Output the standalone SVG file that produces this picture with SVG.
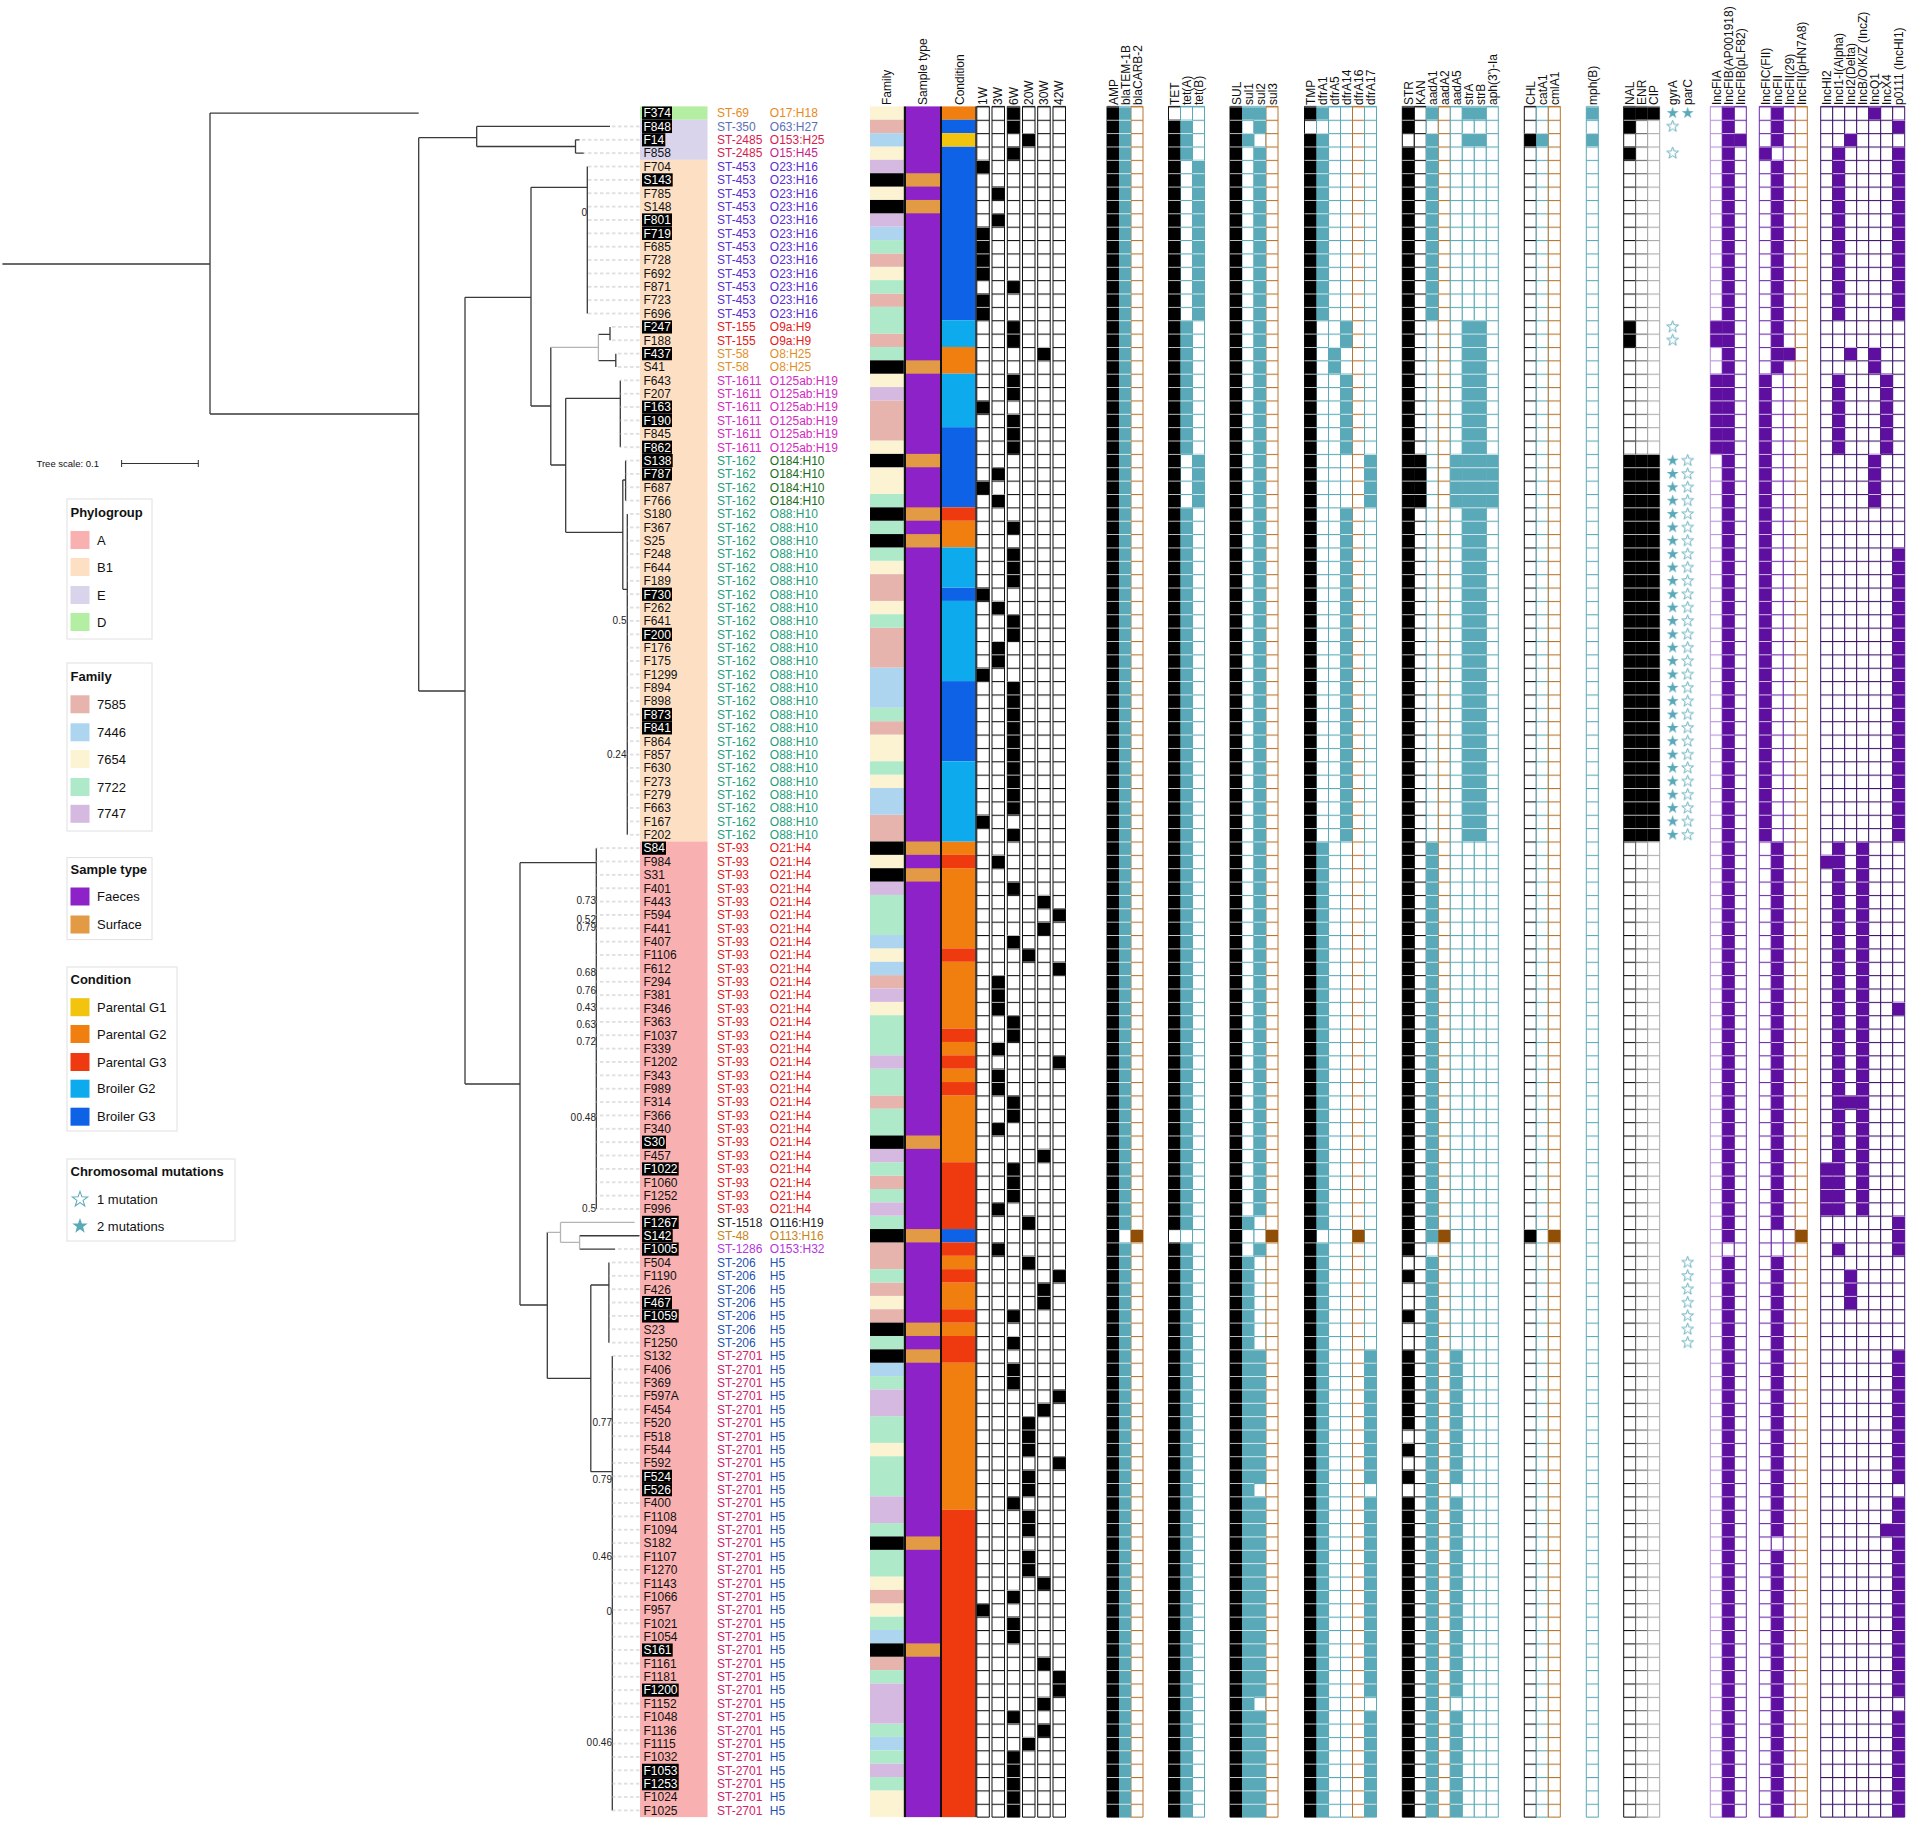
<svg xmlns="http://www.w3.org/2000/svg" xmlns:xlink="http://www.w3.org/1999/xlink" width="1908" height="1821" viewBox="0 0 1908 1821">
<style>
text{font-family:"Liberation Sans",Arial,Helvetica,sans-serif}
.lb{font-size:12px;fill:#111}
.hd{font-size:12px;fill:#111}
.bs{font-size:10px;fill:#222;text-anchor:end}
.lg{font-size:13px;fill:#111}
.lt{font-size:13px;font-weight:bold;fill:#111}
.lgb{fill:none;stroke:#e0e0e0;stroke-width:1}
.tr{fill:none;stroke:#3a3a3a;stroke-width:1.3}
.tl{fill:none;stroke:#b4b4b4;stroke-width:1.3}
.hb{fill:#000}
.w{fill:#fff}
.s69{fill:#e8891c}.s350{fill:#5b6fb5}.s2485{fill:#d81b50}.s15{fill:#c81f86}.s453{fill:#5a2ed0}.s155{fill:#e41a1c}.s58{fill:#e0902a}.s1611{fill:#d42ac0}.s162{fill:#1f9e7a}.s184{fill:#1a6e1a}.s93{fill:#e31a1c}.s1518{fill:#222}.s48{fill:#c8841a}.s1286{fill:#b336e0}.s206{fill:#2351b0}.s2701{fill:#d0216a}
#grid rect{vector-effect:non-scaling-stroke;stroke-width:1}
.cK{fill:url(#gK);stroke:#111}.cD{fill:url(#gD);stroke:#666}.cG{fill:url(#gG);stroke:#aaa}.cT{fill:url(#gT);stroke:#5aa9b8}.cB{fill:url(#gB);stroke:#b8742e}.cL{fill:url(#gL);stroke:#b890dc}.cP{fill:url(#gP);stroke:#6a2aa8}.cQ{fill:url(#gQ);stroke:#3d1466}
</style>
<defs>
<pattern id="gK" patternUnits="userSpaceOnUse" width="40" height="1"><rect width="40" height="1" fill="#fff"/><rect width="40" height="0.08" fill="#111"/></pattern>
<pattern id="gD" patternUnits="userSpaceOnUse" width="40" height="1"><rect width="40" height="1" fill="#fff"/><rect width="40" height="0.08" fill="#666"/></pattern>
<pattern id="gG" patternUnits="userSpaceOnUse" width="40" height="1"><rect width="40" height="1" fill="#fff"/><rect width="40" height="0.08" fill="#aaa"/></pattern>
<pattern id="gT" patternUnits="userSpaceOnUse" width="40" height="1"><rect width="40" height="1" fill="#fff"/><rect width="40" height="0.08" fill="#5aa9b8"/></pattern>
<pattern id="gB" patternUnits="userSpaceOnUse" width="40" height="1"><rect width="40" height="1" fill="#fff"/><rect width="40" height="0.08" fill="#b8742e"/></pattern>
<pattern id="gL" patternUnits="userSpaceOnUse" width="40" height="1"><rect width="40" height="1" fill="#fff"/><rect width="40" height="0.08" fill="#b890dc"/></pattern>
<pattern id="gP" patternUnits="userSpaceOnUse" width="40" height="1"><rect width="40" height="1" fill="#fff"/><rect width="40" height="0.08" fill="#6a2aa8"/></pattern>
<pattern id="gQ" patternUnits="userSpaceOnUse" width="40" height="1"><rect width="40" height="1" fill="#fff"/><rect width="40" height="0.08" fill="#3d1466"/></pattern>
<pattern id="fK" patternUnits="userSpaceOnUse" width="40" height="1"><rect width="40" height="1" fill="#000"/><rect width="40" height="0.055" fill="#fff"/></pattern>
<pattern id="fT" patternUnits="userSpaceOnUse" width="40" height="1"><rect width="40" height="1" fill="#5aa9b8"/><rect width="40" height="0.055" fill="#fff"/></pattern>
<pattern id="fB" patternUnits="userSpaceOnUse" width="40" height="1"><rect width="40" height="1" fill="#8f4f06"/><rect width="40" height="0.055" fill="#fff"/></pattern>
<pattern id="fP" patternUnits="userSpaceOnUse" width="40" height="1"><rect width="40" height="1" fill="#5f0f9f"/><rect width="40" height="0.055" fill="#fff"/></pattern>
<pattern id="ds" patternUnits="userSpaceOnUse" width="6" height="1"><rect x="0" y="0.46" width="3.5" height="0.075" fill="#c4c4c4"/></pattern>
<path id="star" d="M0,-6.2L1.46,-2L5.9,-1.92L2.36,0.77L3.64,5.02L0,2.48L-3.64,5.02L-2.36,0.77L-5.9,-1.92L-1.46,-2Z"/>
<pattern id="sF" patternUnits="userSpaceOnUse" x="1665.2" y="106.4" width="15" height="13.365"><use href="#star" x="7.5" y="6.68" fill="#5aa9b8"/></pattern>
<pattern id="sO" patternUnits="userSpaceOnUse" x="1665.2" y="106.4" width="15" height="13.365"><use href="#star" x="7.5" y="6.68" fill="#fff" stroke="#5aa9b8" stroke-width="0.9"/></pattern>
</defs>
<rect width="1908" height="1821" fill="#fff"/>

<g id="connectors">
<path class="tr" d="M2.4 264H210M210 113.08V414M210 113.08H418.7M210 414H418.7M418.7 137.7V691M418.7 137.7H476.7M476.7 126.45V146.5M476.7 126.45H610M476.7 146.5H575.5M575.5 139.81V153.18M575.5 139.81H579.6M575.5 153.18H583.8M418.7 691H465M465 297.3V1084M465 297.3H531M531 187.3V406M531 187.3H587.3M587.3 166.54V313.56M531 406H550.8M550.8 347.3V465M598.4 334.3H610M610 326.92V340.29M598.4 360.7H615.8M615.8 353.65V367.02M550.8 465H565.7M565.7 398.3V532.3M565.7 398.3H620.3M620.3 380.38V447.21M565.7 532.3H622.8M622.8 480V589.3M622.8 480H625.6M625.6 460.57V500.67M622.8 589.3H627.3M627.3 514.03V834.79M465 1084H520M520 862.7V1305M520 862.7H596.3M596.3 848.16V1209.01M520 1305H547.3M547.3 1232.3V1378.3M579.6 1235.74H639.5M579.6 1249.11H615M547.3 1378.3H590.8M590.8 1285V1471.7M590.8 1285H608.9M608.9 1262.47V1342.66M590.8 1471.7H612.3M612.3 1356.03V1810.44"/>
<path class="tl" d="M550.8 347.3H598.4M598.4 334.3V360.7M547.3 1232.3H560.5M560.5 1222.38V1242.3M560.5 1222.38H634.6M560.5 1242.3H579.6M579.6 1235.74V1249.11"/>
<g transform="translate(0,106.4) scale(1,13.365)" fill="url(#ds)">
<rect x="610" y="1" width="30" height="1"/><rect x="579.6" y="2" width="60.4" height="1"/><rect x="583.8" y="3" width="56.2" height="1"/><rect x="587.3" y="4" width="52.7" height="12"/><rect x="610" y="16" width="30" height="2"/><rect x="615.8" y="18" width="24.2" height="2"/><rect x="620.3" y="20" width="19.7" height="6"/><rect x="625.6" y="26" width="14.4" height="4"/><rect x="627.3" y="30" width="12.7" height="25"/><rect x="596.3" y="55" width="43.7" height="28"/><rect x="615" y="85" width="25" height="1"/><rect x="608.9" y="86" width="31.1" height="7"/><rect x="612.3" y="93" width="27.7" height="35"/>
</g>
</g>

<g id="bootstrap">
<text class="bs" x="587" y="216.2">0</text>
<text class="bs" x="626.5" y="623.5">0.5</text>
<text class="bs" x="626.5" y="757.5">0.24</text>
<text class="bs" x="596" y="903.5">0.73</text>
<text class="bs" x="596" y="922.5">0.52</text>
<text class="bs" x="596" y="930.8">0.79</text>
<text class="bs" x="596" y="975.8">0.68</text>
<text class="bs" x="596" y="993.5">0.76</text>
<text class="bs" x="596" y="1011.2">0.43</text>
<text class="bs" x="596" y="1027.5">0.63</text>
<text class="bs" x="596" y="1044.5">0.72</text>
<text class="bs" x="596" y="1121.2">0.48</text>
<text class="bs" x="576" y="1121.2">0</text>
<text class="bs" x="596" y="1211.8">0.5</text>
<text class="bs" x="612" y="1425.8">0.77</text>
<text class="bs" x="612" y="1482.5">0.79</text>
<text class="bs" x="612" y="1559.5">0.46</text>
<text class="bs" x="612" y="1615.2">0</text>
<text class="bs" x="612" y="1746.2">0.46</text>
<text class="bs" x="592" y="1746.2">0</text>
</g>

<g id="tree-scale">
<text x="36.5" y="466.5" style="font-size:9.5px;fill:#111">Tree scale: 0.1</text>
<path d="M121.6 463.5H198.3M121.6 460V467M198.3 460V467" fill="none" stroke="#333" stroke-width="1"/>
</g>

<g id="phylogroup-strip">
<rect x="640" y="106.4" width="67.5" height="13.37" fill="#b3eea2"/>
<rect x="640" y="119.77" width="67.5" height="40.1" fill="#d9d4ec"/>
<rect x="640" y="159.86" width="67.5" height="681.62" fill="#fde0c4"/>
<rect x="640" y="841.48" width="67.5" height="975.64" fill="#f8b0b0"/>
</g>

<g id="leaves">
<g id="leaf-F374" transform="translate(0 117.38)"><rect class="hb" x="642" y="-10.9" width="30" height="13.2"/><text class="lb w" x="643.5">F374</text><text class="lb s69" x="717">ST-69</text><text class="lb s69" x="769.8">O17:H18</text></g>
<g id="leaf-F848" transform="translate(0 130.75)"><rect class="hb" x="642" y="-10.9" width="30" height="13.2"/><text class="lb w" x="643.5">F848</text><text class="lb s350" x="717">ST-350</text><text class="lb s350" x="769.8">O63:H27</text></g>
<g id="leaf-F14" transform="translate(0 144.11)"><rect class="hb" x="642" y="-10.9" width="23.3" height="13.2"/><text class="lb w" x="643.5">F14</text><text class="lb s2485" x="717">ST-2485</text><text class="lb s2485" x="769.8">O153:H25</text></g>
<g id="leaf-F858" transform="translate(0 157.48)"><text class="lb" x="643.5">F858</text><text class="lb s2485" x="717">ST-2485</text><text class="lb s15" x="769.8">O15:H45</text></g>
<g id="leaf-F704" transform="translate(0 170.84)"><text class="lb" x="643.5">F704</text><text class="lb s453" x="717">ST-453</text><text class="lb s453" x="769.8">O23:H16</text></g>
<g id="leaf-S143" transform="translate(0 184.21)"><rect class="hb" x="642" y="-10.9" width="30.7" height="13.2"/><text class="lb w" x="643.5">S143</text><text class="lb s453" x="717">ST-453</text><text class="lb s453" x="769.8">O23:H16</text></g>
<g id="leaf-F785" transform="translate(0 197.57)"><text class="lb" x="643.5">F785</text><text class="lb s453" x="717">ST-453</text><text class="lb s453" x="769.8">O23:H16</text></g>
<g id="leaf-S148" transform="translate(0 210.94)"><text class="lb" x="643.5">S148</text><text class="lb s453" x="717">ST-453</text><text class="lb s453" x="769.8">O23:H16</text></g>
<g id="leaf-F801" transform="translate(0 224.30)"><rect class="hb" x="642" y="-10.9" width="30" height="13.2"/><text class="lb w" x="643.5">F801</text><text class="lb s453" x="717">ST-453</text><text class="lb s453" x="769.8">O23:H16</text></g>
<g id="leaf-F719" transform="translate(0 237.67)"><rect class="hb" x="642" y="-10.9" width="30" height="13.2"/><text class="lb w" x="643.5">F719</text><text class="lb s453" x="717">ST-453</text><text class="lb s453" x="769.8">O23:H16</text></g>
<g id="leaf-F685" transform="translate(0 251.03)"><text class="lb" x="643.5">F685</text><text class="lb s453" x="717">ST-453</text><text class="lb s453" x="769.8">O23:H16</text></g>
<g id="leaf-F728" transform="translate(0 264.40)"><text class="lb" x="643.5">F728</text><text class="lb s453" x="717">ST-453</text><text class="lb s453" x="769.8">O23:H16</text></g>
<g id="leaf-F692" transform="translate(0 277.76)"><text class="lb" x="643.5">F692</text><text class="lb s453" x="717">ST-453</text><text class="lb s453" x="769.8">O23:H16</text></g>
<g id="leaf-F871" transform="translate(0 291.13)"><text class="lb" x="643.5">F871</text><text class="lb s453" x="717">ST-453</text><text class="lb s453" x="769.8">O23:H16</text></g>
<g id="leaf-F723" transform="translate(0 304.49)"><text class="lb" x="643.5">F723</text><text class="lb s453" x="717">ST-453</text><text class="lb s453" x="769.8">O23:H16</text></g>
<g id="leaf-F696" transform="translate(0 317.86)"><text class="lb" x="643.5">F696</text><text class="lb s453" x="717">ST-453</text><text class="lb s453" x="769.8">O23:H16</text></g>
<g id="leaf-F247" transform="translate(0 331.22)"><rect class="hb" x="642" y="-10.9" width="30" height="13.2"/><text class="lb w" x="643.5">F247</text><text class="lb s155" x="717">ST-155</text><text class="lb s155" x="769.8">O9a:H9</text></g>
<g id="leaf-F188" transform="translate(0 344.59)"><text class="lb" x="643.5">F188</text><text class="lb s155" x="717">ST-155</text><text class="lb s155" x="769.8">O9a:H9</text></g>
<g id="leaf-F437" transform="translate(0 357.95)"><rect class="hb" x="642" y="-10.9" width="30" height="13.2"/><text class="lb w" x="643.5">F437</text><text class="lb s58" x="717">ST-58</text><text class="lb s58" x="769.8">O8:H25</text></g>
<g id="leaf-S41" transform="translate(0 371.32)"><text class="lb" x="643.5">S41</text><text class="lb s58" x="717">ST-58</text><text class="lb s58" x="769.8">O8:H25</text></g>
<g id="leaf-F643" transform="translate(0 384.68)"><text class="lb" x="643.5">F643</text><text class="lb s1611" x="717">ST-1611</text><text class="lb s1611" x="769.8">O125ab:H19</text></g>
<g id="leaf-F207" transform="translate(0 398.05)"><text class="lb" x="643.5">F207</text><text class="lb s1611" x="717">ST-1611</text><text class="lb s1611" x="769.8">O125ab:H19</text></g>
<g id="leaf-F163" transform="translate(0 411.41)"><rect class="hb" x="642" y="-10.9" width="30" height="13.2"/><text class="lb w" x="643.5">F163</text><text class="lb s1611" x="717">ST-1611</text><text class="lb s1611" x="769.8">O125ab:H19</text></g>
<g id="leaf-F190" transform="translate(0 424.78)"><rect class="hb" x="642" y="-10.9" width="30" height="13.2"/><text class="lb w" x="643.5">F190</text><text class="lb s1611" x="717">ST-1611</text><text class="lb s1611" x="769.8">O125ab:H19</text></g>
<g id="leaf-F845" transform="translate(0 438.14)"><text class="lb" x="643.5">F845</text><text class="lb s1611" x="717">ST-1611</text><text class="lb s1611" x="769.8">O125ab:H19</text></g>
<g id="leaf-F862" transform="translate(0 451.51)"><rect class="hb" x="642" y="-10.9" width="30" height="13.2"/><text class="lb w" x="643.5">F862</text><text class="lb s1611" x="717">ST-1611</text><text class="lb s1611" x="769.8">O125ab:H19</text></g>
<g id="leaf-S138" transform="translate(0 464.87)"><rect class="hb" x="642" y="-10.9" width="30.7" height="13.2"/><text class="lb w" x="643.5">S138</text><text class="lb s162" x="717">ST-162</text><text class="lb s184" x="769.8">O184:H10</text></g>
<g id="leaf-F787" transform="translate(0 478.24)"><rect class="hb" x="642" y="-10.9" width="30" height="13.2"/><text class="lb w" x="643.5">F787</text><text class="lb s162" x="717">ST-162</text><text class="lb s184" x="769.8">O184:H10</text></g>
<g id="leaf-F687" transform="translate(0 491.60)"><text class="lb" x="643.5">F687</text><text class="lb s162" x="717">ST-162</text><text class="lb s184" x="769.8">O184:H10</text></g>
<g id="leaf-F766" transform="translate(0 504.97)"><text class="lb" x="643.5">F766</text><text class="lb s162" x="717">ST-162</text><text class="lb s184" x="769.8">O184:H10</text></g>
<g id="leaf-S180" transform="translate(0 518.33)"><text class="lb" x="643.5">S180</text><text class="lb s162" x="717">ST-162</text><text class="lb s162" x="769.8">O88:H10</text></g>
<g id="leaf-F367" transform="translate(0 531.70)"><text class="lb" x="643.5">F367</text><text class="lb s162" x="717">ST-162</text><text class="lb s162" x="769.8">O88:H10</text></g>
<g id="leaf-S25" transform="translate(0 545.06)"><text class="lb" x="643.5">S25</text><text class="lb s162" x="717">ST-162</text><text class="lb s162" x="769.8">O88:H10</text></g>
<g id="leaf-F248" transform="translate(0 558.43)"><text class="lb" x="643.5">F248</text><text class="lb s162" x="717">ST-162</text><text class="lb s162" x="769.8">O88:H10</text></g>
<g id="leaf-F644" transform="translate(0 571.79)"><text class="lb" x="643.5">F644</text><text class="lb s162" x="717">ST-162</text><text class="lb s162" x="769.8">O88:H10</text></g>
<g id="leaf-F189" transform="translate(0 585.16)"><text class="lb" x="643.5">F189</text><text class="lb s162" x="717">ST-162</text><text class="lb s162" x="769.8">O88:H10</text></g>
<g id="leaf-F730" transform="translate(0 598.52)"><rect class="hb" x="642" y="-10.9" width="30" height="13.2"/><text class="lb w" x="643.5">F730</text><text class="lb s162" x="717">ST-162</text><text class="lb s162" x="769.8">O88:H10</text></g>
<g id="leaf-F262" transform="translate(0 611.89)"><text class="lb" x="643.5">F262</text><text class="lb s162" x="717">ST-162</text><text class="lb s162" x="769.8">O88:H10</text></g>
<g id="leaf-F641" transform="translate(0 625.25)"><text class="lb" x="643.5">F641</text><text class="lb s162" x="717">ST-162</text><text class="lb s162" x="769.8">O88:H10</text></g>
<g id="leaf-F200" transform="translate(0 638.62)"><rect class="hb" x="642" y="-10.9" width="30" height="13.2"/><text class="lb w" x="643.5">F200</text><text class="lb s162" x="717">ST-162</text><text class="lb s162" x="769.8">O88:H10</text></g>
<g id="leaf-F176" transform="translate(0 651.98)"><text class="lb" x="643.5">F176</text><text class="lb s162" x="717">ST-162</text><text class="lb s162" x="769.8">O88:H10</text></g>
<g id="leaf-F175" transform="translate(0 665.35)"><text class="lb" x="643.5">F175</text><text class="lb s162" x="717">ST-162</text><text class="lb s162" x="769.8">O88:H10</text></g>
<g id="leaf-F1299" transform="translate(0 678.71)"><text class="lb" x="643.5">F1299</text><text class="lb s162" x="717">ST-162</text><text class="lb s162" x="769.8">O88:H10</text></g>
<g id="leaf-F894" transform="translate(0 692.08)"><text class="lb" x="643.5">F894</text><text class="lb s162" x="717">ST-162</text><text class="lb s162" x="769.8">O88:H10</text></g>
<g id="leaf-F898" transform="translate(0 705.44)"><text class="lb" x="643.5">F898</text><text class="lb s162" x="717">ST-162</text><text class="lb s162" x="769.8">O88:H10</text></g>
<g id="leaf-F873" transform="translate(0 718.81)"><rect class="hb" x="642" y="-10.9" width="30" height="13.2"/><text class="lb w" x="643.5">F873</text><text class="lb s162" x="717">ST-162</text><text class="lb s162" x="769.8">O88:H10</text></g>
<g id="leaf-F841" transform="translate(0 732.17)"><rect class="hb" x="642" y="-10.9" width="30" height="13.2"/><text class="lb w" x="643.5">F841</text><text class="lb s162" x="717">ST-162</text><text class="lb s162" x="769.8">O88:H10</text></g>
<g id="leaf-F864" transform="translate(0 745.54)"><text class="lb" x="643.5">F864</text><text class="lb s162" x="717">ST-162</text><text class="lb s162" x="769.8">O88:H10</text></g>
<g id="leaf-F857" transform="translate(0 758.90)"><text class="lb" x="643.5">F857</text><text class="lb s162" x="717">ST-162</text><text class="lb s162" x="769.8">O88:H10</text></g>
<g id="leaf-F630" transform="translate(0 772.27)"><text class="lb" x="643.5">F630</text><text class="lb s162" x="717">ST-162</text><text class="lb s162" x="769.8">O88:H10</text></g>
<g id="leaf-F273" transform="translate(0 785.63)"><text class="lb" x="643.5">F273</text><text class="lb s162" x="717">ST-162</text><text class="lb s162" x="769.8">O88:H10</text></g>
<g id="leaf-F279" transform="translate(0 799.00)"><text class="lb" x="643.5">F279</text><text class="lb s162" x="717">ST-162</text><text class="lb s162" x="769.8">O88:H10</text></g>
<g id="leaf-F663" transform="translate(0 812.36)"><text class="lb" x="643.5">F663</text><text class="lb s162" x="717">ST-162</text><text class="lb s162" x="769.8">O88:H10</text></g>
<g id="leaf-F167" transform="translate(0 825.73)"><text class="lb" x="643.5">F167</text><text class="lb s162" x="717">ST-162</text><text class="lb s162" x="769.8">O88:H10</text></g>
<g id="leaf-F202" transform="translate(0 839.09)"><text class="lb" x="643.5">F202</text><text class="lb s162" x="717">ST-162</text><text class="lb s162" x="769.8">O88:H10</text></g>
<g id="leaf-S84" transform="translate(0 852.46)"><rect class="hb" x="642" y="-10.9" width="24" height="13.2"/><text class="lb w" x="643.5">S84</text><text class="lb s93" x="717">ST-93</text><text class="lb s93" x="769.8">O21:H4</text></g>
<g id="leaf-F984" transform="translate(0 865.82)"><text class="lb" x="643.5">F984</text><text class="lb s93" x="717">ST-93</text><text class="lb s93" x="769.8">O21:H4</text></g>
<g id="leaf-S31" transform="translate(0 879.19)"><text class="lb" x="643.5">S31</text><text class="lb s93" x="717">ST-93</text><text class="lb s93" x="769.8">O21:H4</text></g>
<g id="leaf-F401" transform="translate(0 892.55)"><text class="lb" x="643.5">F401</text><text class="lb s93" x="717">ST-93</text><text class="lb s93" x="769.8">O21:H4</text></g>
<g id="leaf-F443" transform="translate(0 905.92)"><text class="lb" x="643.5">F443</text><text class="lb s93" x="717">ST-93</text><text class="lb s93" x="769.8">O21:H4</text></g>
<g id="leaf-F594" transform="translate(0 919.28)"><text class="lb" x="643.5">F594</text><text class="lb s93" x="717">ST-93</text><text class="lb s93" x="769.8">O21:H4</text></g>
<g id="leaf-F441" transform="translate(0 932.65)"><text class="lb" x="643.5">F441</text><text class="lb s93" x="717">ST-93</text><text class="lb s93" x="769.8">O21:H4</text></g>
<g id="leaf-F407" transform="translate(0 946.01)"><text class="lb" x="643.5">F407</text><text class="lb s93" x="717">ST-93</text><text class="lb s93" x="769.8">O21:H4</text></g>
<g id="leaf-F1106" transform="translate(0 959.38)"><text class="lb" x="643.5">F1106</text><text class="lb s93" x="717">ST-93</text><text class="lb s93" x="769.8">O21:H4</text></g>
<g id="leaf-F612" transform="translate(0 972.74)"><text class="lb" x="643.5">F612</text><text class="lb s93" x="717">ST-93</text><text class="lb s93" x="769.8">O21:H4</text></g>
<g id="leaf-F294" transform="translate(0 986.11)"><text class="lb" x="643.5">F294</text><text class="lb s93" x="717">ST-93</text><text class="lb s93" x="769.8">O21:H4</text></g>
<g id="leaf-F381" transform="translate(0 999.47)"><text class="lb" x="643.5">F381</text><text class="lb s93" x="717">ST-93</text><text class="lb s93" x="769.8">O21:H4</text></g>
<g id="leaf-F346" transform="translate(0 1012.84)"><text class="lb" x="643.5">F346</text><text class="lb s93" x="717">ST-93</text><text class="lb s93" x="769.8">O21:H4</text></g>
<g id="leaf-F363" transform="translate(0 1026.20)"><text class="lb" x="643.5">F363</text><text class="lb s93" x="717">ST-93</text><text class="lb s93" x="769.8">O21:H4</text></g>
<g id="leaf-F1037" transform="translate(0 1039.57)"><text class="lb" x="643.5">F1037</text><text class="lb s93" x="717">ST-93</text><text class="lb s93" x="769.8">O21:H4</text></g>
<g id="leaf-F339" transform="translate(0 1052.93)"><text class="lb" x="643.5">F339</text><text class="lb s93" x="717">ST-93</text><text class="lb s93" x="769.8">O21:H4</text></g>
<g id="leaf-F1202" transform="translate(0 1066.30)"><text class="lb" x="643.5">F1202</text><text class="lb s93" x="717">ST-93</text><text class="lb s93" x="769.8">O21:H4</text></g>
<g id="leaf-F343" transform="translate(0 1079.66)"><text class="lb" x="643.5">F343</text><text class="lb s93" x="717">ST-93</text><text class="lb s93" x="769.8">O21:H4</text></g>
<g id="leaf-F989" transform="translate(0 1093.03)"><text class="lb" x="643.5">F989</text><text class="lb s93" x="717">ST-93</text><text class="lb s93" x="769.8">O21:H4</text></g>
<g id="leaf-F314" transform="translate(0 1106.39)"><text class="lb" x="643.5">F314</text><text class="lb s93" x="717">ST-93</text><text class="lb s93" x="769.8">O21:H4</text></g>
<g id="leaf-F366" transform="translate(0 1119.76)"><text class="lb" x="643.5">F366</text><text class="lb s93" x="717">ST-93</text><text class="lb s93" x="769.8">O21:H4</text></g>
<g id="leaf-F340" transform="translate(0 1133.12)"><text class="lb" x="643.5">F340</text><text class="lb s93" x="717">ST-93</text><text class="lb s93" x="769.8">O21:H4</text></g>
<g id="leaf-S30" transform="translate(0 1146.49)"><rect class="hb" x="642" y="-10.9" width="24" height="13.2"/><text class="lb w" x="643.5">S30</text><text class="lb s93" x="717">ST-93</text><text class="lb s93" x="769.8">O21:H4</text></g>
<g id="leaf-F457" transform="translate(0 1159.85)"><text class="lb" x="643.5">F457</text><text class="lb s93" x="717">ST-93</text><text class="lb s93" x="769.8">O21:H4</text></g>
<g id="leaf-F1022" transform="translate(0 1173.22)"><rect class="hb" x="642" y="-10.9" width="36.7" height="13.2"/><text class="lb w" x="643.5">F1022</text><text class="lb s93" x="717">ST-93</text><text class="lb s93" x="769.8">O21:H4</text></g>
<g id="leaf-F1060" transform="translate(0 1186.58)"><text class="lb" x="643.5">F1060</text><text class="lb s93" x="717">ST-93</text><text class="lb s93" x="769.8">O21:H4</text></g>
<g id="leaf-F1252" transform="translate(0 1199.95)"><text class="lb" x="643.5">F1252</text><text class="lb s93" x="717">ST-93</text><text class="lb s93" x="769.8">O21:H4</text></g>
<g id="leaf-F996" transform="translate(0 1213.31)"><text class="lb" x="643.5">F996</text><text class="lb s93" x="717">ST-93</text><text class="lb s93" x="769.8">O21:H4</text></g>
<g id="leaf-F1267" transform="translate(0 1226.68)"><rect class="hb" x="642" y="-10.9" width="36.7" height="13.2"/><text class="lb w" x="643.5">F1267</text><text class="lb s1518" x="717">ST-1518</text><text class="lb s1518" x="769.8">O116:H19</text></g>
<g id="leaf-S142" transform="translate(0 1240.04)"><rect class="hb" x="642" y="-10.9" width="30.7" height="13.2"/><text class="lb w" x="643.5">S142</text><text class="lb s48" x="717">ST-48</text><text class="lb s48" x="769.8">O113:H16</text></g>
<g id="leaf-F1005" transform="translate(0 1253.41)"><rect class="hb" x="642" y="-10.9" width="36.7" height="13.2"/><text class="lb w" x="643.5">F1005</text><text class="lb s1286" x="717">ST-1286</text><text class="lb s1286" x="769.8">O153:H32</text></g>
<g id="leaf-F504" transform="translate(0 1266.77)"><text class="lb" x="643.5">F504</text><text class="lb s206" x="717">ST-206</text><text class="lb s206" x="769.8">H5</text></g>
<g id="leaf-F1190" transform="translate(0 1280.14)"><text class="lb" x="643.5">F1190</text><text class="lb s206" x="717">ST-206</text><text class="lb s206" x="769.8">H5</text></g>
<g id="leaf-F426" transform="translate(0 1293.50)"><text class="lb" x="643.5">F426</text><text class="lb s206" x="717">ST-206</text><text class="lb s206" x="769.8">H5</text></g>
<g id="leaf-F467" transform="translate(0 1306.87)"><rect class="hb" x="642" y="-10.9" width="30" height="13.2"/><text class="lb w" x="643.5">F467</text><text class="lb s206" x="717">ST-206</text><text class="lb s206" x="769.8">H5</text></g>
<g id="leaf-F1059" transform="translate(0 1320.23)"><rect class="hb" x="642" y="-10.9" width="36.7" height="13.2"/><text class="lb w" x="643.5">F1059</text><text class="lb s206" x="717">ST-206</text><text class="lb s206" x="769.8">H5</text></g>
<g id="leaf-S23" transform="translate(0 1333.60)"><text class="lb" x="643.5">S23</text><text class="lb s206" x="717">ST-206</text><text class="lb s206" x="769.8">H5</text></g>
<g id="leaf-F1250" transform="translate(0 1346.96)"><text class="lb" x="643.5">F1250</text><text class="lb s206" x="717">ST-206</text><text class="lb s206" x="769.8">H5</text></g>
<g id="leaf-S132" transform="translate(0 1360.33)"><text class="lb" x="643.5">S132</text><text class="lb s2701" x="717">ST-2701</text><text class="lb s206" x="769.8">H5</text></g>
<g id="leaf-F406" transform="translate(0 1373.69)"><text class="lb" x="643.5">F406</text><text class="lb s2701" x="717">ST-2701</text><text class="lb s206" x="769.8">H5</text></g>
<g id="leaf-F369" transform="translate(0 1387.06)"><text class="lb" x="643.5">F369</text><text class="lb s2701" x="717">ST-2701</text><text class="lb s206" x="769.8">H5</text></g>
<g id="leaf-F597A" transform="translate(0 1400.42)"><text class="lb" x="643.5">F597A</text><text class="lb s2701" x="717">ST-2701</text><text class="lb s206" x="769.8">H5</text></g>
<g id="leaf-F454" transform="translate(0 1413.79)"><text class="lb" x="643.5">F454</text><text class="lb s2701" x="717">ST-2701</text><text class="lb s206" x="769.8">H5</text></g>
<g id="leaf-F520" transform="translate(0 1427.15)"><text class="lb" x="643.5">F520</text><text class="lb s2701" x="717">ST-2701</text><text class="lb s206" x="769.8">H5</text></g>
<g id="leaf-F518" transform="translate(0 1440.52)"><text class="lb" x="643.5">F518</text><text class="lb s2701" x="717">ST-2701</text><text class="lb s206" x="769.8">H5</text></g>
<g id="leaf-F544" transform="translate(0 1453.88)"><text class="lb" x="643.5">F544</text><text class="lb s2701" x="717">ST-2701</text><text class="lb s206" x="769.8">H5</text></g>
<g id="leaf-F592" transform="translate(0 1467.25)"><text class="lb" x="643.5">F592</text><text class="lb s2701" x="717">ST-2701</text><text class="lb s206" x="769.8">H5</text></g>
<g id="leaf-F524" transform="translate(0 1480.61)"><rect class="hb" x="642" y="-10.9" width="30" height="13.2"/><text class="lb w" x="643.5">F524</text><text class="lb s2701" x="717">ST-2701</text><text class="lb s206" x="769.8">H5</text></g>
<g id="leaf-F526" transform="translate(0 1493.98)"><rect class="hb" x="642" y="-10.9" width="30" height="13.2"/><text class="lb w" x="643.5">F526</text><text class="lb s2701" x="717">ST-2701</text><text class="lb s206" x="769.8">H5</text></g>
<g id="leaf-F400" transform="translate(0 1507.34)"><text class="lb" x="643.5">F400</text><text class="lb s2701" x="717">ST-2701</text><text class="lb s206" x="769.8">H5</text></g>
<g id="leaf-F1108" transform="translate(0 1520.71)"><text class="lb" x="643.5">F1108</text><text class="lb s2701" x="717">ST-2701</text><text class="lb s206" x="769.8">H5</text></g>
<g id="leaf-F1094" transform="translate(0 1534.07)"><text class="lb" x="643.5">F1094</text><text class="lb s2701" x="717">ST-2701</text><text class="lb s206" x="769.8">H5</text></g>
<g id="leaf-S182" transform="translate(0 1547.44)"><text class="lb" x="643.5">S182</text><text class="lb s2701" x="717">ST-2701</text><text class="lb s206" x="769.8">H5</text></g>
<g id="leaf-F1107" transform="translate(0 1560.80)"><text class="lb" x="643.5">F1107</text><text class="lb s2701" x="717">ST-2701</text><text class="lb s206" x="769.8">H5</text></g>
<g id="leaf-F1270" transform="translate(0 1574.17)"><text class="lb" x="643.5">F1270</text><text class="lb s2701" x="717">ST-2701</text><text class="lb s206" x="769.8">H5</text></g>
<g id="leaf-F1143" transform="translate(0 1587.53)"><text class="lb" x="643.5">F1143</text><text class="lb s2701" x="717">ST-2701</text><text class="lb s206" x="769.8">H5</text></g>
<g id="leaf-F1066" transform="translate(0 1600.90)"><text class="lb" x="643.5">F1066</text><text class="lb s2701" x="717">ST-2701</text><text class="lb s206" x="769.8">H5</text></g>
<g id="leaf-F957" transform="translate(0 1614.26)"><text class="lb" x="643.5">F957</text><text class="lb s2701" x="717">ST-2701</text><text class="lb s206" x="769.8">H5</text></g>
<g id="leaf-F1021" transform="translate(0 1627.63)"><text class="lb" x="643.5">F1021</text><text class="lb s2701" x="717">ST-2701</text><text class="lb s206" x="769.8">H5</text></g>
<g id="leaf-F1054" transform="translate(0 1640.99)"><text class="lb" x="643.5">F1054</text><text class="lb s2701" x="717">ST-2701</text><text class="lb s206" x="769.8">H5</text></g>
<g id="leaf-S161" transform="translate(0 1654.36)"><rect class="hb" x="642" y="-10.9" width="30.7" height="13.2"/><text class="lb w" x="643.5">S161</text><text class="lb s2701" x="717">ST-2701</text><text class="lb s206" x="769.8">H5</text></g>
<g id="leaf-F1161" transform="translate(0 1667.72)"><text class="lb" x="643.5">F1161</text><text class="lb s2701" x="717">ST-2701</text><text class="lb s206" x="769.8">H5</text></g>
<g id="leaf-F1181" transform="translate(0 1681.09)"><text class="lb" x="643.5">F1181</text><text class="lb s2701" x="717">ST-2701</text><text class="lb s206" x="769.8">H5</text></g>
<g id="leaf-F1200" transform="translate(0 1694.45)"><rect class="hb" x="642" y="-10.9" width="36.7" height="13.2"/><text class="lb w" x="643.5">F1200</text><text class="lb s2701" x="717">ST-2701</text><text class="lb s206" x="769.8">H5</text></g>
<g id="leaf-F1152" transform="translate(0 1707.82)"><text class="lb" x="643.5">F1152</text><text class="lb s2701" x="717">ST-2701</text><text class="lb s206" x="769.8">H5</text></g>
<g id="leaf-F1048" transform="translate(0 1721.18)"><text class="lb" x="643.5">F1048</text><text class="lb s2701" x="717">ST-2701</text><text class="lb s206" x="769.8">H5</text></g>
<g id="leaf-F1136" transform="translate(0 1734.55)"><text class="lb" x="643.5">F1136</text><text class="lb s2701" x="717">ST-2701</text><text class="lb s206" x="769.8">H5</text></g>
<g id="leaf-F1115" transform="translate(0 1747.91)"><text class="lb" x="643.5">F1115</text><text class="lb s2701" x="717">ST-2701</text><text class="lb s206" x="769.8">H5</text></g>
<g id="leaf-F1032" transform="translate(0 1761.28)"><text class="lb" x="643.5">F1032</text><text class="lb s2701" x="717">ST-2701</text><text class="lb s206" x="769.8">H5</text></g>
<g id="leaf-F1053" transform="translate(0 1774.64)"><rect class="hb" x="642" y="-10.9" width="36.7" height="13.2"/><text class="lb w" x="643.5">F1053</text><text class="lb s2701" x="717">ST-2701</text><text class="lb s206" x="769.8">H5</text></g>
<g id="leaf-F1253" transform="translate(0 1788.01)"><rect class="hb" x="642" y="-10.9" width="36.7" height="13.2"/><text class="lb w" x="643.5">F1253</text><text class="lb s2701" x="717">ST-2701</text><text class="lb s206" x="769.8">H5</text></g>
<g id="leaf-F1024" transform="translate(0 1801.37)"><text class="lb" x="643.5">F1024</text><text class="lb s2701" x="717">ST-2701</text><text class="lb s206" x="769.8">H5</text></g>
<g id="leaf-F1025" transform="translate(0 1814.74)"><text class="lb" x="643.5">F1025</text><text class="lb s2701" x="717">ST-2701</text><text class="lb s206" x="769.8">H5</text></g>
</g>

<g id="heatmap" transform="translate(0,106.4) scale(1,13.365)">
<g id="strips">
<g fill="#fcf3d2"><rect x="870" y="0" width="33.8" height="1"/><rect x="870" y="3" width="33.8" height="1"/><rect x="870" y="6" width="33.8" height="1"/><rect x="870" y="12" width="33.8" height="1"/><rect x="870" y="20" width="33.8" height="1"/><rect x="870" y="25" width="33.8" height="1"/><rect x="870" y="27" width="33.8" height="2"/><rect x="870" y="34" width="33.8" height="1"/><rect x="870" y="37" width="33.8" height="1"/><rect x="870" y="47" width="33.8" height="2"/><rect x="870" y="50" width="33.8" height="1"/><rect x="870" y="56" width="33.8" height="1"/><rect x="870" y="63" width="33.8" height="1"/><rect x="870" y="67" width="33.8" height="1"/><rect x="870" y="89" width="33.8" height="1"/><rect x="870" y="100" width="33.8" height="1"/><rect x="870" y="110" width="33.8" height="1"/><rect x="870" y="112" width="33.8" height="1"/><rect x="870" y="126" width="33.8" height="2"/></g>
<g fill="#e6b3ad"><rect x="870" y="1" width="33.8" height="1"/><rect x="870" y="11" width="33.8" height="1"/><rect x="870" y="14" width="33.8" height="1"/><rect x="870" y="17" width="33.8" height="1"/><rect x="870" y="22" width="33.8" height="3"/><rect x="870" y="35" width="33.8" height="2"/><rect x="870" y="39" width="33.8" height="3"/><rect x="870" y="46" width="33.8" height="1"/><rect x="870" y="53" width="33.8" height="2"/><rect x="870" y="65" width="33.8" height="1"/><rect x="870" y="74" width="33.8" height="1"/><rect x="870" y="80" width="33.8" height="1"/><rect x="870" y="85" width="33.8" height="2"/><rect x="870" y="88" width="33.8" height="1"/><rect x="870" y="90" width="33.8" height="1"/><rect x="870" y="111" width="33.8" height="1"/><rect x="870" y="116" width="33.8" height="1"/></g>
<g fill="#aed5f0"><rect x="870" y="2" width="33.8" height="1"/><rect x="870" y="9" width="33.8" height="1"/><rect x="870" y="42" width="33.8" height="3"/><rect x="870" y="51" width="33.8" height="2"/><rect x="870" y="62" width="33.8" height="1"/><rect x="870" y="64" width="33.8" height="1"/><rect x="870" y="94" width="33.8" height="1"/><rect x="870" y="114" width="33.8" height="1"/><rect x="870" y="122" width="33.8" height="1"/></g>
<g fill="#aeeac9"><rect x="870" y="10" width="33.8" height="1"/><rect x="870" y="13" width="33.8" height="1"/><rect x="870" y="15" width="33.8" height="2"/><rect x="870" y="18" width="33.8" height="1"/><rect x="870" y="29" width="33.8" height="1"/><rect x="870" y="31" width="33.8" height="1"/><rect x="870" y="33" width="33.8" height="1"/><rect x="870" y="38" width="33.8" height="1"/><rect x="870" y="45" width="33.8" height="1"/><rect x="870" y="49" width="33.8" height="1"/><rect x="870" y="59" width="33.8" height="3"/><rect x="870" y="68" width="33.8" height="3"/><rect x="870" y="72" width="33.8" height="2"/><rect x="870" y="75" width="33.8" height="2"/><rect x="870" y="79" width="33.8" height="1"/><rect x="870" y="81" width="33.8" height="1"/><rect x="870" y="83" width="33.8" height="1"/><rect x="870" y="87" width="33.8" height="1"/><rect x="870" y="92" width="33.8" height="1"/><rect x="870" y="95" width="33.8" height="1"/><rect x="870" y="98" width="33.8" height="2"/><rect x="870" y="101" width="33.8" height="3"/><rect x="870" y="106" width="33.8" height="1"/><rect x="870" y="108" width="33.8" height="2"/><rect x="870" y="113" width="33.8" height="1"/><rect x="870" y="117" width="33.8" height="1"/><rect x="870" y="121" width="33.8" height="1"/><rect x="870" y="123" width="33.8" height="1"/><rect x="870" y="125" width="33.8" height="1"/></g>
<g fill="#d5b9e0"><rect x="870" y="4" width="33.8" height="1"/><rect x="870" y="8" width="33.8" height="1"/><rect x="870" y="21" width="33.8" height="1"/><rect x="870" y="58" width="33.8" height="1"/><rect x="870" y="66" width="33.8" height="1"/><rect x="870" y="71" width="33.8" height="1"/><rect x="870" y="78" width="33.8" height="1"/><rect x="870" y="82" width="33.8" height="1"/><rect x="870" y="96" width="33.8" height="2"/><rect x="870" y="104" width="33.8" height="2"/><rect x="870" y="118" width="33.8" height="3"/><rect x="870" y="124" width="33.8" height="1"/></g>
<g fill="#000"><rect x="870" y="5" width="33.8" height="1"/><rect x="870" y="7" width="33.8" height="1"/><rect x="870" y="19" width="33.8" height="1"/><rect x="870" y="26" width="33.8" height="1"/><rect x="870" y="30" width="33.8" height="1"/><rect x="870" y="32" width="33.8" height="1"/><rect x="870" y="55" width="33.8" height="1"/><rect x="870" y="57" width="33.8" height="1"/><rect x="870" y="77" width="33.8" height="1"/><rect x="870" y="84" width="33.8" height="1"/><rect x="870" y="91" width="33.8" height="1"/><rect x="870" y="93" width="33.8" height="1"/><rect x="870" y="107" width="33.8" height="1"/><rect x="870" y="115" width="33.8" height="1"/></g>
<rect x="906" y="0" width="34" height="128" fill="#8e22c9"/>
<g fill="#e39a45"><rect x="906" y="5" width="34" height="1"/><rect x="906" y="7" width="34" height="1"/><rect x="906" y="19" width="34" height="1"/><rect x="906" y="26" width="34" height="1"/><rect x="906" y="30" width="34" height="1"/><rect x="906" y="32" width="34" height="1"/><rect x="906" y="55" width="34" height="1"/><rect x="906" y="57" width="34" height="1"/><rect x="906" y="77" width="34" height="1"/><rect x="906" y="84" width="34" height="1"/><rect x="906" y="91" width="34" height="1"/><rect x="906" y="93" width="34" height="1"/><rect x="906" y="107" width="34" height="1"/><rect x="906" y="115" width="34" height="1"/></g>
<g fill="#f07f0f"><rect x="942" y="0" width="33.5" height="1"/><rect x="942" y="18" width="33.5" height="2"/><rect x="942" y="31" width="33.5" height="2"/><rect x="942" y="55" width="33.5" height="1"/><rect x="942" y="57" width="33.5" height="6"/><rect x="942" y="64" width="33.5" height="5"/><rect x="942" y="70" width="33.5" height="1"/><rect x="942" y="72" width="33.5" height="1"/><rect x="942" y="74" width="33.5" height="5"/><rect x="942" y="86" width="33.5" height="1"/><rect x="942" y="88" width="33.5" height="2"/><rect x="942" y="91" width="33.5" height="1"/><rect x="942" y="94" width="33.5" height="11"/></g>
<g fill="#0e62e6"><rect x="942" y="1" width="33.5" height="1"/><rect x="942" y="3" width="33.5" height="13"/><rect x="942" y="24" width="33.5" height="6"/><rect x="942" y="36" width="33.5" height="1"/><rect x="942" y="43" width="33.5" height="6"/><rect x="942" y="84" width="33.5" height="1"/></g>
<rect x="942" y="2" width="33.5" height="1" fill="#f2c40e"/>
<g fill="#0eaaee"><rect x="942" y="16" width="33.5" height="2"/><rect x="942" y="20" width="33.5" height="4"/><rect x="942" y="33" width="33.5" height="3"/><rect x="942" y="37" width="33.5" height="6"/><rect x="942" y="49" width="33.5" height="6"/></g>
<g fill="#ee3a0e"><rect x="942" y="30" width="33.5" height="1"/><rect x="942" y="56" width="33.5" height="1"/><rect x="942" y="63" width="33.5" height="1"/><rect x="942" y="69" width="33.5" height="1"/><rect x="942" y="71" width="33.5" height="1"/><rect x="942" y="73" width="33.5" height="1"/><rect x="942" y="79" width="33.5" height="5"/><rect x="942" y="85" width="33.5" height="1"/><rect x="942" y="87" width="33.5" height="1"/><rect x="942" y="90" width="33.5" height="1"/><rect x="942" y="92" width="33.5" height="2"/><rect x="942" y="105" width="33.5" height="23"/></g>
<g fill="#111"><rect x="903.8" y="0" width="2.2" height="128"/><rect x="940" y="0" width="2" height="128"/><rect x="975.3" y="0" width="1.2" height="128"/></g>
</g>

<g id="grid">
<rect class="cK" x="976.8" y="0" width="12.5" height="128"/><rect class="cK" x="992" y="0" width="12.5" height="128"/><rect class="cK" x="1007.3" y="0" width="12.5" height="128"/><rect class="cK" x="1022.5" y="0" width="12.5" height="128"/><rect class="cK" x="1037.7" y="0" width="12.5" height="128"/><rect class="cK" x="1053" y="0" width="12.5" height="128"/>
<rect class="cK" x="1107" y="0" width="12" height="128"/><rect class="cT" x="1119" y="0" width="12" height="128"/><rect class="cB" x="1131" y="0" width="12" height="128"/>
<rect class="cK" x="1168.5" y="0" width="12" height="128"/><rect class="cT" x="1180.5" y="0" width="12" height="128"/><rect class="cT" x="1192.5" y="0" width="12" height="128"/>
<rect class="cK" x="1230" y="0" width="12" height="128"/><rect class="cT" x="1242" y="0" width="12" height="128"/><rect class="cT" x="1254" y="0" width="12" height="128"/><rect class="cB" x="1266" y="0" width="12" height="128"/>
<rect class="cK" x="1304.5" y="0" width="12" height="128"/><rect class="cT" x="1316.5" y="0" width="12" height="128"/><rect class="cT" x="1328.5" y="0" width="12" height="128"/><rect class="cT" x="1340.5" y="0" width="12" height="128"/><rect class="cB" x="1352.5" y="0" width="12" height="128"/><rect class="cT" x="1364.5" y="0" width="12" height="128"/>
<rect class="cK" x="1402.3" y="0" width="12" height="128"/><rect class="cK" x="1414.3" y="0" width="12" height="128"/><rect class="cT" x="1426.3" y="0" width="12" height="128"/><rect class="cB" x="1438.3" y="0" width="12" height="128"/><rect class="cT" x="1450.3" y="0" width="12" height="128"/><rect class="cT" x="1462.3" y="0" width="12" height="128"/><rect class="cT" x="1474.3" y="0" width="12" height="128"/><rect class="cT" x="1486.3" y="0" width="12" height="128"/>
<rect class="cK" x="1524.3" y="0" width="12" height="128"/><rect class="cT" x="1536.3" y="0" width="12" height="128"/><rect class="cB" x="1548.3" y="0" width="12" height="128"/>
<rect class="cT" x="1586.3" y="0" width="12" height="128"/>
<rect class="cK" x="1623.7" y="0" width="12" height="128"/><rect class="cD" x="1635.7" y="0" width="12" height="128"/><rect class="cG" x="1647.7" y="0" width="12" height="128"/>
<rect class="cL" x="1710.3" y="0" width="12" height="128"/><rect class="cP" x="1722.3" y="0" width="12" height="128"/><rect class="cP" x="1734.3" y="0" width="12" height="128"/>
<rect class="cP" x="1759.3" y="0" width="12" height="128"/><rect class="cP" x="1771.3" y="0" width="12" height="128"/><rect class="cP" x="1783.3" y="0" width="12" height="128"/><rect class="cB" x="1795.3" y="0" width="12" height="128"/>
<rect class="cQ" x="1820.7" y="0" width="12" height="128"/><rect class="cQ" x="1832.7" y="0" width="12" height="128"/><rect class="cQ" x="1844.7" y="0" width="12" height="128"/><rect class="cQ" x="1856.7" y="0" width="12" height="128"/><rect class="cQ" x="1868.7" y="0" width="12" height="128"/><rect class="cQ" x="1880.7" y="0" width="12" height="128"/><rect class="cQ" x="1892.7" y="0" width="12" height="128"/>
</g>

<g id="fills-black" fill="url(#fK)">
<rect x="1107" y="0" width="12" height="128"/>
<rect x="1168.5" y="1" width="12" height="83"/><rect x="1168.5" y="85" width="12" height="43"/>
<rect x="1230" y="0" width="12" height="128"/>
<rect x="1304.5" y="0" width="12" height="1"/><rect x="1304.5" y="2" width="12" height="126"/>
<rect x="1402.3" y="0" width="12" height="2"/><rect x="1402.3" y="3" width="12" height="83"/><rect x="1402.3" y="87" width="12" height="1"/><rect x="1402.3" y="90" width="12" height="1"/><rect x="1402.3" y="93" width="12" height="6"/><rect x="1402.3" y="100" width="12" height="1"/><rect x="1402.3" y="102" width="12" height="1"/><rect x="1402.3" y="104" width="12" height="24"/>
<rect x="1414.3" y="26" width="12" height="4"/>
<rect x="1524.3" y="2" width="12" height="1"/><rect x="1524.3" y="84" width="12" height="1"/>
<rect x="1623.7" y="0" width="12" height="2"/><rect x="1623.7" y="3" width="12" height="1"/><rect x="1623.7" y="16" width="12" height="2"/><rect x="1623.7" y="26" width="12" height="29"/>
<rect x="1635.7" y="0" width="12" height="1"/><rect x="1635.7" y="26" width="12" height="29"/>
<rect x="1647.7" y="0" width="12" height="1"/><rect x="1647.7" y="26" width="12" height="29"/>
<rect x="976.8" y="4" width="12.5" height="1"/><rect x="976.8" y="9" width="12.5" height="4"/><rect x="976.8" y="14" width="12.5" height="2"/><rect x="976.8" y="22" width="12.5" height="1"/><rect x="976.8" y="28" width="12.5" height="1"/><rect x="976.8" y="36" width="12.5" height="1"/><rect x="976.8" y="42" width="12.5" height="1"/><rect x="976.8" y="53" width="12.5" height="1"/><rect x="976.8" y="112" width="12.5" height="1"/>
<rect x="992" y="6" width="12.5" height="1"/><rect x="992" y="8" width="12.5" height="1"/><rect x="992" y="27" width="12.5" height="1"/><rect x="992" y="29" width="12.5" height="1"/><rect x="992" y="37" width="12.5" height="1"/><rect x="992" y="40" width="12.5" height="2"/><rect x="992" y="56" width="12.5" height="1"/><rect x="992" y="65" width="12.5" height="3"/><rect x="992" y="70" width="12.5" height="1"/><rect x="992" y="72" width="12.5" height="2"/><rect x="992" y="76" width="12.5" height="1"/><rect x="992" y="82" width="12.5" height="1"/><rect x="992" y="85" width="12.5" height="1"/>
<rect x="1007.3" y="0" width="12.5" height="2"/><rect x="1007.3" y="3" width="12.5" height="1"/><rect x="1007.3" y="13" width="12.5" height="1"/><rect x="1007.3" y="16" width="12.5" height="2"/><rect x="1007.3" y="20" width="12.5" height="2"/><rect x="1007.3" y="23" width="12.5" height="3"/><rect x="1007.3" y="31" width="12.5" height="1"/><rect x="1007.3" y="33" width="12.5" height="3"/><rect x="1007.3" y="38" width="12.5" height="2"/><rect x="1007.3" y="43" width="12.5" height="10"/><rect x="1007.3" y="54" width="12.5" height="1"/><rect x="1007.3" y="58" width="12.5" height="1"/><rect x="1007.3" y="62" width="12.5" height="1"/><rect x="1007.3" y="68" width="12.5" height="2"/><rect x="1007.3" y="74" width="12.5" height="2"/><rect x="1007.3" y="79" width="12.5" height="3"/><rect x="1007.3" y="90" width="12.5" height="1"/><rect x="1007.3" y="92" width="12.5" height="1"/><rect x="1007.3" y="94" width="12.5" height="2"/><rect x="1007.3" y="104" width="12.5" height="1"/><rect x="1007.3" y="111" width="12.5" height="1"/><rect x="1007.3" y="113" width="12.5" height="2"/><rect x="1007.3" y="120" width="12.5" height="1"/><rect x="1007.3" y="123" width="12.5" height="5"/>
<rect x="1022.5" y="2" width="12.5" height="1"/><rect x="1022.5" y="63" width="12.5" height="1"/><rect x="1022.5" y="83" width="12.5" height="1"/><rect x="1022.5" y="86" width="12.5" height="1"/><rect x="1022.5" y="98" width="12.5" height="3"/><rect x="1022.5" y="102" width="12.5" height="2"/><rect x="1022.5" y="105" width="12.5" height="2"/><rect x="1022.5" y="108" width="12.5" height="2"/><rect x="1022.5" y="122" width="12.5" height="1"/>
<rect x="1037.7" y="18" width="12.5" height="1"/><rect x="1037.7" y="59" width="12.5" height="1"/><rect x="1037.7" y="61" width="12.5" height="1"/><rect x="1037.7" y="78" width="12.5" height="1"/><rect x="1037.7" y="88" width="12.5" height="2"/><rect x="1037.7" y="97" width="12.5" height="1"/><rect x="1037.7" y="110" width="12.5" height="1"/><rect x="1037.7" y="116" width="12.5" height="1"/><rect x="1037.7" y="119" width="12.5" height="1"/><rect x="1037.7" y="121" width="12.5" height="1"/>
<rect x="1053" y="60" width="12.5" height="1"/><rect x="1053" y="64" width="12.5" height="1"/><rect x="1053" y="71" width="12.5" height="1"/><rect x="1053" y="87" width="12.5" height="1"/><rect x="1053" y="96" width="12.5" height="1"/><rect x="1053" y="101" width="12.5" height="1"/><rect x="1053" y="117" width="12.5" height="2"/>
</g>

<g id="fills-teal" fill="url(#fT)">
<rect x="1119" y="0" width="12" height="84"/><rect x="1119" y="85" width="12" height="43"/>
<rect x="1180.5" y="1" width="12" height="3"/><rect x="1180.5" y="16" width="12" height="10"/><rect x="1180.5" y="30" width="12" height="54"/><rect x="1180.5" y="85" width="12" height="43"/>
<rect x="1192.5" y="4" width="12" height="12"/><rect x="1192.5" y="26" width="12" height="4"/>
<rect x="1242" y="0" width="12" height="1"/><rect x="1242" y="2" width="12" height="1"/><rect x="1242" y="83" width="12" height="1"/><rect x="1242" y="86" width="12" height="42"/>
<rect x="1254" y="0" width="12" height="2"/><rect x="1254" y="3" width="12" height="80"/><rect x="1254" y="85" width="12" height="1"/><rect x="1254" y="93" width="12" height="10"/><rect x="1254" y="104" width="12" height="15"/><rect x="1254" y="120" width="12" height="8"/>
<rect x="1316.5" y="0" width="12" height="1"/><rect x="1316.5" y="2" width="12" height="14"/><rect x="1316.5" y="55" width="12" height="29"/><rect x="1316.5" y="85" width="12" height="43"/>
<rect x="1328.5" y="18" width="12" height="2"/>
<rect x="1340.5" y="16" width="12" height="2"/><rect x="1340.5" y="20" width="12" height="6"/><rect x="1340.5" y="30" width="12" height="25"/>
<rect x="1364.5" y="26" width="12" height="4"/><rect x="1364.5" y="93" width="12" height="10"/><rect x="1364.5" y="104" width="12" height="15"/><rect x="1364.5" y="120" width="12" height="8"/>
<rect x="1426.3" y="0" width="12" height="1"/><rect x="1426.3" y="2" width="12" height="14"/><rect x="1426.3" y="55" width="12" height="30"/><rect x="1426.3" y="86" width="12" height="42"/>
<rect x="1450.3" y="26" width="12" height="4"/><rect x="1450.3" y="93" width="12" height="10"/><rect x="1450.3" y="104" width="12" height="15"/><rect x="1450.3" y="120" width="12" height="8"/>
<rect x="1462.3" y="0" width="24" height="1"/><rect x="1462.3" y="2" width="24" height="1"/><rect x="1462.3" y="16" width="24" height="39"/>
<rect x="1486.3" y="26" width="12" height="4"/>
<rect x="1536.3" y="2" width="12" height="1"/>
<rect x="1586.3" y="0" width="12" height="1"/><rect x="1586.3" y="2" width="12" height="1"/>
</g>

<g id="fills-brown" fill="url(#fB)">
<rect x="1131" y="84" width="12" height="1"/><rect x="1266" y="84" width="12" height="1"/><rect x="1352.5" y="84" width="12" height="1"/><rect x="1438.3" y="84" width="12" height="1"/><rect x="1548.3" y="84" width="12" height="1"/><rect x="1795.3" y="84" width="12" height="1"/>
</g>

<g id="fills-purple" fill="url(#fP)">
<rect x="1710.3" y="16" width="12" height="2"/><rect x="1710.3" y="20" width="12" height="6"/>
<rect x="1722.3" y="0" width="12" height="85"/><rect x="1722.3" y="86" width="12" height="42"/>
<rect x="1734.3" y="2" width="12" height="1"/>
<rect x="1759.3" y="3" width="12" height="1"/><rect x="1759.3" y="20" width="12" height="35"/>
<rect x="1771.3" y="0" width="12" height="3"/><rect x="1771.3" y="4" width="12" height="16"/><rect x="1771.3" y="55" width="12" height="29"/><rect x="1771.3" y="86" width="12" height="21"/><rect x="1771.3" y="108" width="12" height="20"/>
<rect x="1783.3" y="18" width="12" height="1"/>
<rect x="1820.7" y="56" width="12" height="1"/><rect x="1820.7" y="79" width="12" height="4"/>
<rect x="1832.7" y="3" width="12" height="13"/><rect x="1832.7" y="20" width="12" height="6"/><rect x="1832.7" y="55" width="12" height="28"/><rect x="1832.7" y="85" width="12" height="1"/>
<rect x="1844.7" y="2" width="12" height="1"/><rect x="1844.7" y="18" width="12" height="1"/><rect x="1844.7" y="74" width="12" height="1"/><rect x="1844.7" y="87" width="12" height="3"/>
<rect x="1856.7" y="55" width="12" height="28"/>
<rect x="1868.7" y="0" width="12" height="1"/><rect x="1868.7" y="18" width="12" height="2"/><rect x="1868.7" y="26" width="12" height="4"/>
<rect x="1880.7" y="20" width="12" height="6"/><rect x="1880.7" y="106" width="12" height="1"/>
<rect x="1892.7" y="1" width="12" height="1"/><rect x="1892.7" y="3" width="12" height="13"/><rect x="1892.7" y="33" width="12" height="22"/><rect x="1892.7" y="67" width="12" height="1"/><rect x="1892.7" y="83" width="12" height="3"/><rect x="1892.7" y="93" width="12" height="10"/><rect x="1892.7" y="104" width="12" height="15"/><rect x="1892.7" y="120" width="12" height="8"/>
</g>
</g>

<g id="mutation-stars">
<rect x="1665.2" y="106.4" width="15" height="13.365" fill="url(#sF)"/>
<rect x="1665.2" y="453.89" width="15" height="387.585" fill="url(#sF)"/>
<rect x="1680.2" y="106.4" width="15" height="13.365" fill="url(#sF)"/>
<rect x="1665.2" y="119.77" width="15" height="13.365" fill="url(#sO)"/>
<rect x="1665.2" y="146.5" width="15" height="13.365" fill="url(#sO)"/>
<rect x="1665.2" y="320.24" width="15" height="26.73" fill="url(#sO)"/>
<rect x="1680.2" y="453.89" width="15" height="387.585" fill="url(#sO)"/>
<rect x="1680.2" y="1255.79" width="15" height="93.555" fill="url(#sO)"/>
</g>

<g id="headers">
<text class="hd" transform="translate(891 105) rotate(-90)">Family</text>
<text class="hd" transform="translate(926.5 105) rotate(-90)">Sample type</text>
<text class="hd" transform="translate(964 105) rotate(-90)">Condition</text>
<text class="hd" transform="translate(987 105) rotate(-90)">1W</text>
<text class="hd" transform="translate(1002.3 105) rotate(-90)">3W</text>
<text class="hd" transform="translate(1017.6 105) rotate(-90)">6W</text>
<text class="hd" transform="translate(1032.8 105) rotate(-90)">20W</text>
<text class="hd" transform="translate(1048 105) rotate(-90)">30W</text>
<text class="hd" transform="translate(1063.3 105) rotate(-90)">42W</text>
<text class="hd" transform="translate(1117.5 105) rotate(-90)">AMP</text>
<text class="hd" transform="translate(1129.5 105) rotate(-90)">blaTEM-1B</text>
<text class="hd" transform="translate(1141.5 105) rotate(-90)">blaCARB-2</text>
<text class="hd" transform="translate(1179 105) rotate(-90)">TET</text>
<text class="hd" transform="translate(1191 105) rotate(-90)">tet(A)</text>
<text class="hd" transform="translate(1203 105) rotate(-90)">tet(B)</text>
<text class="hd" transform="translate(1240.5 105) rotate(-90)">SUL</text>
<text class="hd" transform="translate(1252.5 105) rotate(-90)">sul1</text>
<text class="hd" transform="translate(1264.5 105) rotate(-90)">sul2</text>
<text class="hd" transform="translate(1276.5 105) rotate(-90)">sul3</text>
<text class="hd" transform="translate(1315 105) rotate(-90)">TMP</text>
<text class="hd" transform="translate(1327 105) rotate(-90)">dfrA1</text>
<text class="hd" transform="translate(1339 105) rotate(-90)">dfrA5</text>
<text class="hd" transform="translate(1351 105) rotate(-90)">dfrA14</text>
<text class="hd" transform="translate(1363 105) rotate(-90)">dfrA16</text>
<text class="hd" transform="translate(1375 105) rotate(-90)">dfrA17</text>
<text class="hd" transform="translate(1412.8 105) rotate(-90)">STR</text>
<text class="hd" transform="translate(1424.8 105) rotate(-90)">KAN</text>
<text class="hd" transform="translate(1436.8 105) rotate(-90)">aadA1</text>
<text class="hd" transform="translate(1448.8 105) rotate(-90)">aadA2</text>
<text class="hd" transform="translate(1460.8 105) rotate(-90)">aadA5</text>
<text class="hd" transform="translate(1472.8 105) rotate(-90)">strA</text>
<text class="hd" transform="translate(1484.8 105) rotate(-90)">strB</text>
<text class="hd" transform="translate(1496.8 105) rotate(-90)">aph(3')-Ia</text>
<text class="hd" transform="translate(1534.8 105) rotate(-90)">CHL</text>
<text class="hd" transform="translate(1546.8 105) rotate(-90)">catA1</text>
<text class="hd" transform="translate(1558.8 105) rotate(-90)">cmlA1</text>
<text class="hd" transform="translate(1596.8 105) rotate(-90)">mph(B)</text>
<text class="hd" transform="translate(1634.2 105) rotate(-90)">NAL</text>
<text class="hd" transform="translate(1646.2 105) rotate(-90)">ENR</text>
<text class="hd" transform="translate(1658.2 105) rotate(-90)">CIP</text>
<text class="hd" transform="translate(1677 105) rotate(-90)">gyrA</text>
<text class="hd" transform="translate(1692 105) rotate(-90)">parC</text>
<text class="hd" transform="translate(1720.8 105) rotate(-90)">IncFIA</text>
<text class="hd" transform="translate(1732.8 105) rotate(-90)">IncFIB(AP001918)</text>
<text class="hd" transform="translate(1744.8 105) rotate(-90)">IncFIB(pLF82)</text>
<text class="hd" transform="translate(1769.8 105) rotate(-90)">IncFIC(FII)</text>
<text class="hd" transform="translate(1781.8 105) rotate(-90)">IncFII</text>
<text class="hd" transform="translate(1793.8 105) rotate(-90)">IncFII(29)</text>
<text class="hd" transform="translate(1805.8 105) rotate(-90)">IncFII(pHN7A8)</text>
<text class="hd" transform="translate(1831.2 105) rotate(-90)">IncHI2</text>
<text class="hd" transform="translate(1843.2 105) rotate(-90)">IncI1-I(Alpha)</text>
<text class="hd" transform="translate(1855.2 105) rotate(-90)">IncI2(Delta)</text>
<text class="hd" transform="translate(1867.2 105) rotate(-90)">IncB/O/K/Z (IncZ)</text>
<text class="hd" transform="translate(1879.2 105) rotate(-90)">IncQ1</text>
<text class="hd" transform="translate(1891.2 105) rotate(-90)">IncX4</text>
<text class="hd" transform="translate(1903.2 105) rotate(-90)">p0111 (IncHI1)</text>
</g>

<g id="legend-phylogroup">
<rect class="lgb" x="67" y="499" width="85" height="140"/>
<text class="lt" x="70.5" y="516.5">Phylogroup</text>
<rect x="70.5" y="531" width="19" height="18" fill="#f8b0b0"/><text class="lg" x="97" y="544.5">A</text>
<rect x="70.5" y="558" width="19" height="18" fill="#fde0c4"/><text class="lg" x="97" y="571.5">B1</text>
<rect x="70.5" y="586" width="19" height="18" fill="#d9d4ec"/><text class="lg" x="97" y="599.5">E</text>
<rect x="70.5" y="613" width="19" height="18" fill="#b3eea2"/><text class="lg" x="97" y="626.5">D</text>
</g>
<g id="legend-family">
<rect class="lgb" x="67" y="663" width="85" height="168"/>
<text class="lt" x="70.5" y="680.8">Family</text>
<rect x="70.5" y="695.3" width="19" height="18" fill="#e6b3ad"/><text class="lg" x="97" y="708.8">7585</text>
<rect x="70.5" y="723.3" width="19" height="18" fill="#aed5f0"/><text class="lg" x="97" y="736.8">7446</text>
<rect x="70.5" y="750" width="19" height="18" fill="#fcf3d2"/><text class="lg" x="97" y="763.5">7654</text>
<rect x="70.5" y="778" width="19" height="18" fill="#aeeac9"/><text class="lg" x="97" y="791.5">7722</text>
<rect x="70.5" y="804.8" width="19" height="18" fill="#d5b9e0"/><text class="lg" x="97" y="818.3">7747</text>
</g>
<g id="legend-sample">
<rect class="lgb" x="67" y="857.6" width="85" height="82"/>
<text class="lt" x="70.5" y="874.2">Sample type</text>
<rect x="70.5" y="887.5" width="19" height="18" fill="#8e22c9"/><text class="lg" x="97" y="901">Faeces</text>
<rect x="70.5" y="915.5" width="19" height="18" fill="#e39a45"/><text class="lg" x="97" y="929">Surface</text>
</g>
<g id="legend-condition">
<rect class="lgb" x="67" y="967" width="110" height="164"/>
<text class="lt" x="70.5" y="983.7">Condition</text>
<rect x="70.5" y="998.2" width="19" height="18" fill="#f2c40e"/><text class="lg" x="97" y="1011.7">Parental G1</text>
<rect x="70.5" y="1025" width="19" height="18" fill="#f07f0f"/><text class="lg" x="97" y="1038.5">Parental G2</text>
<rect x="70.5" y="1053" width="19" height="18" fill="#ee3a0e"/><text class="lg" x="97" y="1066.5">Parental G3</text>
<rect x="70.5" y="1079.7" width="19" height="18" fill="#0eaaee"/><text class="lg" x="97" y="1093.2">Broiler G2</text>
<rect x="70.5" y="1107.7" width="19" height="18" fill="#0e62e6"/><text class="lg" x="97" y="1121.2">Broiler G3</text>
</g>
<g id="legend-mutations">
<rect class="lgb" x="67" y="1159" width="168" height="82"/>
<text class="lt" x="70.5" y="1176">Chromosomal mutations</text>
<use href="#star" transform="translate(80 1199.4) scale(1.3)" fill="#fff" stroke="#5aa9b8" stroke-width="0.8"/><text class="lg" x="97" y="1203.9">1 mutation</text>
<use href="#star" transform="translate(80 1226.1) scale(1.3)" fill="#5aa9b8"/><text class="lg" x="97" y="1230.6">2 mutations</text>
</g>
</svg>
